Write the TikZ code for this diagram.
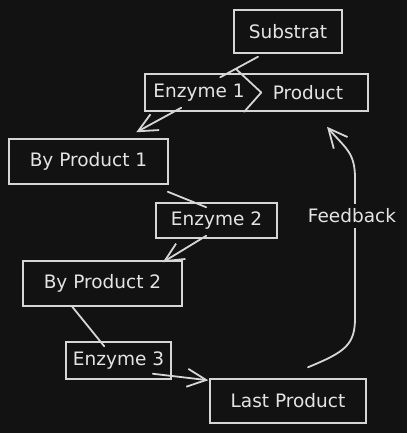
\documentclass[tikz,border=0pt]{standalone}
\usepackage{fontspec}
\setmainfont{DejaVu Sans}
\usetikzlibrary{arrows.meta,calc}
\definecolor{bg}{HTML}{121212}
\definecolor{ink}{HTML}{D6D6D6}
\definecolor{txt}{HTML}{E4E4E4}
\begin{document}
\begin{tikzpicture}[x=1pt,y=-1pt,
  txtfont/.style={font=\fontsize{18.5}{21}\selectfont},
  box/.style={draw=ink,line width=1.5pt,inner sep=0pt,text=txt,txtfont},
  lbl/.style={text=txt,inner sep=0pt,txtfont},
  conn/.style={draw=ink,line width=1.8pt,line cap=round,line join=round},
  arr/.style={conn,-{Straight Barb[length=19pt,width=18pt,line width=1.8pt]}}
]
\fill[bg] (0,0) rectangle (407,433);
\useasboundingbox (0,0) rectangle (407,433);

% boxes
\node[box,minimum width=108pt,minimum height=43pt] (sub) at (288,31.5) {Substrat};
\node[box,minimum width=223pt,minimum height=37pt] (ep) at (256.5,92.5) {};
\node[lbl] (e1) at (199,93) {Enzyme 1};
\node[lbl] (prod) at (308,93) {Product};
\node[box,minimum width=159pt,minimum height=45pt] (bp1) at (88.5,161.5) {By Product 1};
\node[box,minimum width=121pt,minimum height=35pt] (e2) at (216.5,220.5) {Enzyme 2};
\node[box,minimum width=159pt,minimum height=45pt] (bp2) at (102.5,283.5) {By Product 2};
\node[box,minimum width=105pt,minimum height=37pt] (e3) at (118.5,360.5) {Enzyme 3};
\node[box,minimum width=156pt,minimum height=44pt] (lp) at (288,401) {Last Product};

% chevron divider inside the Enzyme 1 / Product box
\draw[conn] ($(ep.north west)+(92,-4)$) -- ($(ep.west)+(117,0)$) -- ($(ep.south west)+(100,0)$);

% connectors
\draw[conn] ($(sub.south)+(-30,3)$) -- ($(ep.north west)+(76,4)$);
\draw[arr] ($(ep.south west)+(37,-4)$) -- ($(bp1.north west)+(128,-6)$);
\draw[conn] ($(bp1.south east)+(-1,7)$) -- ($(e2.north west)+(51,5)$);
\draw[arr] ($(e2.south west)+(51,-3)$) -- ($(bp2.north east)+(-20,2)$);
\draw[conn] ($(bp2.south west)+(50,0)$) -- ($(e3.north west)+(39,5)$);
\draw[arr] ($(e3.south east)+(-19,-6)$) -- ($(lp.north west)+(-1,2)$);
\draw[arr] ($(lp.north)+(20,-11)$) .. controls (345,352) and (355,345) .. (355,318)
  -- (355,178) .. controls (355,152) and (345,148) .. ($(ep.south)+(70.5,15)$);
\node[lbl,fill=bg,inner xsep=2pt,inner ysep=5pt] (fb) at (352,216) {Feedback};
\end{tikzpicture}
\end{document}
